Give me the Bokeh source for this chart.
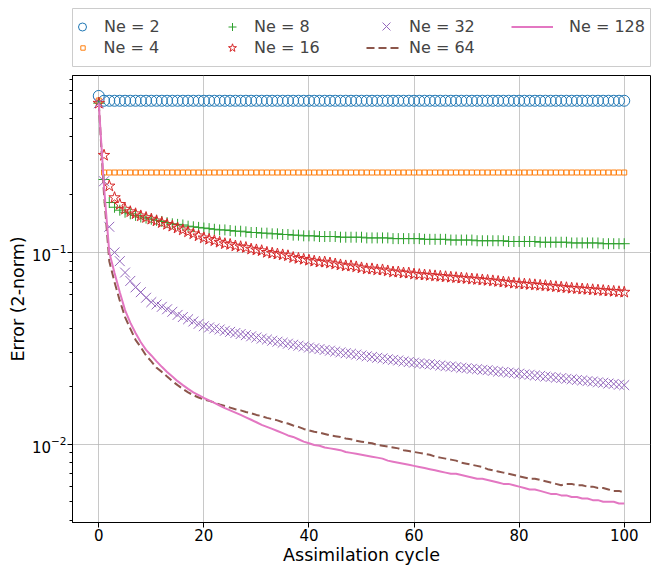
from bokeh.plotting import figure
from bokeh.layouts import column
from bokeh.models import Range1d, Legend, LegendItem, FixedTicker, LogTickFormatter
from bokeh.embed import file_html
from bokeh.resources import INLINE

cycles = list(range(101))

ne2 = [0.655,
       0.618, 0.618, 0.618, 0.618, 0.618, 0.618, 0.618, 0.618, 0.618, 0.618,
       0.618, 0.618, 0.618, 0.618, 0.618, 0.618, 0.618, 0.618, 0.618, 0.618,
       0.618, 0.618, 0.618, 0.618, 0.618, 0.618, 0.618, 0.618, 0.618, 0.618,
       0.618, 0.618, 0.618, 0.618, 0.618, 0.618, 0.618, 0.618, 0.618, 0.618,
       0.618, 0.618, 0.618, 0.618, 0.618, 0.618, 0.618, 0.618, 0.618, 0.618,
       0.618, 0.618, 0.618, 0.618, 0.618, 0.618, 0.618, 0.618, 0.618, 0.618,
       0.618, 0.618, 0.618, 0.618, 0.618, 0.618, 0.618, 0.618, 0.618, 0.618,
       0.618, 0.618, 0.618, 0.618, 0.618, 0.618, 0.618, 0.618, 0.618, 0.618,
       0.618, 0.618, 0.618, 0.618, 0.618, 0.618, 0.618, 0.618, 0.618, 0.618,
       0.618, 0.618, 0.618, 0.618, 0.618, 0.618, 0.618, 0.618, 0.618, 0.618]

ne4 = [0.620,
       0.261, 0.261, 0.261, 0.261, 0.261, 0.261, 0.261, 0.261, 0.261, 0.261,
       0.261, 0.261, 0.261, 0.261, 0.261, 0.261, 0.261, 0.261, 0.261, 0.261,
       0.261, 0.261, 0.261, 0.261, 0.261, 0.261, 0.261, 0.261, 0.261, 0.261,
       0.261, 0.261, 0.261, 0.261, 0.261, 0.261, 0.261, 0.261, 0.261, 0.261,
       0.261, 0.261, 0.261, 0.261, 0.261, 0.261, 0.261, 0.261, 0.261, 0.261,
       0.261, 0.261, 0.261, 0.261, 0.261, 0.261, 0.261, 0.261, 0.261, 0.261,
       0.261, 0.261, 0.261, 0.261, 0.261, 0.261, 0.261, 0.261, 0.261, 0.261,
       0.261, 0.261, 0.261, 0.261, 0.261, 0.261, 0.261, 0.261, 0.261, 0.261,
       0.261, 0.261, 0.261, 0.261, 0.261, 0.261, 0.261, 0.261, 0.261, 0.261,
       0.261, 0.261, 0.261, 0.261, 0.261, 0.261, 0.261, 0.261, 0.261, 0.261]

ne8 = [0.600,
       0.240, 0.182, 0.172, 0.166, 0.162, 0.159, 0.156, 0.153, 0.151, 0.149,
       0.147, 0.145, 0.143, 0.141, 0.140, 0.139, 0.137, 0.136, 0.135, 0.134,
       0.133, 0.132, 0.131, 0.131, 0.130, 0.129, 0.129, 0.128, 0.127, 0.127,
       0.126, 0.126, 0.125, 0.125, 0.124, 0.124, 0.123, 0.123, 0.122, 0.122,
       0.122, 0.121, 0.121, 0.121, 0.121, 0.120, 0.120, 0.120, 0.120, 0.120,
       0.119, 0.119, 0.119, 0.119, 0.119, 0.118, 0.118, 0.118, 0.118, 0.118,
       0.118, 0.117, 0.117, 0.117, 0.117, 0.117, 0.116, 0.116, 0.116, 0.116,
       0.116, 0.115, 0.115, 0.115, 0.115, 0.115, 0.115, 0.114, 0.114, 0.114,
       0.114, 0.114, 0.114, 0.113, 0.113, 0.113, 0.113, 0.113, 0.113, 0.112,
       0.112, 0.112, 0.112, 0.112, 0.112, 0.111, 0.111, 0.111, 0.111, 0.111]

ne16 = [0.600,
        0.321, 0.222, 0.193, 0.178, 0.168, 0.163, 0.159, 0.155, 0.152, 0.149,
        0.146, 0.143, 0.140, 0.137, 0.134, 0.131, 0.128, 0.125, 0.122, 0.119,
        0.117, 0.115, 0.113, 0.111, 0.110, 0.108, 0.107, 0.106, 0.104, 0.103,
        0.102, 0.100, 0.099, 0.098, 0.097, 0.096, 0.094, 0.093, 0.092, 0.091,
        0.090, 0.089, 0.089, 0.088, 0.087, 0.086, 0.085, 0.085, 0.084, 0.083,
        0.082, 0.082, 0.081, 0.081, 0.080, 0.079, 0.079, 0.078, 0.078, 0.077,
        0.0766, 0.0762, 0.0758, 0.0754, 0.0750, 0.0746, 0.0742, 0.0738, 0.0734, 0.0730,
        0.0726, 0.0722, 0.0718, 0.0714, 0.0710, 0.0705, 0.0700, 0.0696, 0.0691, 0.0687,
        0.0683, 0.0680, 0.0677, 0.0673, 0.0670, 0.0666, 0.0662, 0.0658, 0.0654, 0.0650,
        0.0647, 0.0644, 0.0641, 0.0638, 0.0635, 0.0632, 0.0629, 0.0626, 0.0623, 0.0620]

ne32 = [0.600,
        0.235, 0.136, 0.100, 0.090, 0.0785, 0.0710, 0.0657, 0.0620, 0.0580, 0.0550,
        0.0535, 0.0520, 0.0505, 0.0490, 0.0472, 0.0460, 0.0448, 0.0436, 0.0424, 0.0412,
        0.0406, 0.0401, 0.0396, 0.0390, 0.0385, 0.0380, 0.0375, 0.0370, 0.0365, 0.0360,
        0.0355, 0.0351, 0.0346, 0.0342, 0.0338, 0.0334, 0.0330, 0.0326, 0.0323, 0.0319,
        0.0316, 0.0313, 0.0310, 0.0307, 0.0304, 0.0301, 0.0298, 0.0296, 0.0293, 0.0290,
        0.0287, 0.0285, 0.0282, 0.0280, 0.0277, 0.0275, 0.0273, 0.0270, 0.0268, 0.0266,
        0.0264, 0.0262, 0.0261, 0.0259, 0.0257, 0.0255, 0.0254, 0.0252, 0.0250, 0.0249,
        0.0247, 0.0246, 0.0244, 0.0243, 0.0241, 0.0239, 0.0238, 0.0236, 0.0235, 0.0233,
        0.0231, 0.0230, 0.0228, 0.0227, 0.0225, 0.0224, 0.0222, 0.0221, 0.0219, 0.0218,
        0.0216, 0.0215, 0.0213, 0.0212, 0.0210, 0.0209, 0.0207, 0.0206, 0.0204, 0.0203]

ne64 = [0.600,
        0.200, 0.090, 0.070, 0.056, 0.046, 0.040, 0.035, 0.032, 0.029, 0.027,
        0.0250, 0.0238, 0.0225, 0.0213, 0.0203, 0.0194, 0.0186, 0.0180, 0.0175, 0.0171,
        0.0168, 0.0165, 0.0161, 0.0158, 0.0155, 0.0152, 0.0150, 0.0147, 0.0145, 0.0142,
        0.0140, 0.0137, 0.0135, 0.0133, 0.0130, 0.0128, 0.0125, 0.0123, 0.0120, 0.0118,
        0.0116, 0.0115, 0.0113, 0.0111, 0.0110, 0.0109, 0.0107, 0.0106, 0.0104, 0.0103,
        0.0102, 0.0101, 0.0099, 0.0098, 0.0097, 0.0096, 0.0095, 0.0093, 0.0092, 0.0091,
        0.0090, 0.0089, 0.0088, 0.0086, 0.0085, 0.0084, 0.0083, 0.0082, 0.0080, 0.0079,
        0.0078, 0.0077, 0.0076, 0.0074, 0.0073, 0.0072, 0.0071, 0.0070, 0.0069, 0.0068,
        0.0067, 0.0066, 0.0066, 0.0065, 0.0064, 0.0063, 0.0062, 0.0061, 0.0062, 0.0062,
        0.0061, 0.0061, 0.0060, 0.0060, 0.0059, 0.0059, 0.0058, 0.0057, 0.0057, 0.0056]

ne128 = [0.600,
         0.220, 0.100, 0.078, 0.062, 0.050, 0.043, 0.038, 0.034, 0.031, 0.029,
         0.0270, 0.0253, 0.0238, 0.0225, 0.0213, 0.0203, 0.0194, 0.0186, 0.0180, 0.0174,
         0.0169, 0.0164, 0.0159, 0.0154, 0.0150, 0.0146, 0.0142, 0.0138, 0.0134, 0.0130,
         0.0126, 0.0123, 0.0120, 0.0117, 0.0114, 0.0111, 0.0109, 0.0106, 0.0103, 0.0101,
         0.0099, 0.0098, 0.0096, 0.0095, 0.0094, 0.0093, 0.0091, 0.0090, 0.0089, 0.0088,
         0.0087, 0.0086, 0.0085, 0.0084, 0.0082, 0.0081, 0.0080, 0.0079, 0.0078, 0.0077,
         0.0076, 0.0075, 0.0074, 0.0073, 0.0072, 0.0071, 0.0070, 0.0070, 0.0069, 0.0068,
         0.0067, 0.0066, 0.0066, 0.0065, 0.0064, 0.0063, 0.0062, 0.0062, 0.0061, 0.0060,
         0.0059, 0.0058, 0.0058, 0.0057, 0.0056, 0.0055, 0.0055, 0.0054, 0.0054, 0.0053,
         0.0053, 0.0052, 0.0052, 0.0051, 0.0051, 0.0050, 0.0050, 0.0050, 0.0049, 0.0049]

labels = ["Ne = 2", "Ne = 4", "Ne = 8", "Ne = 16", "Ne = 32", "Ne = 64", "Ne = 128"]
x_ticks = [0, 20, 40, 60, 80, 100]
y_ticks = [0.01, 0.1]
y_minor = [0.004, 0.005, 0.006, 0.007, 0.008, 0.009,
           0.02, 0.03, 0.04, 0.05, 0.06, 0.07, 0.08, 0.09,
           0.2, 0.3, 0.4, 0.5, 0.6, 0.7, 0.8]

FONT = "DejaVu Sans"
COLORS = ["#1f77b4", "#ff7f0e", "#2ca02c", "#d62728", "#9467bd", "#8c564b", "#e377c2"]

STYLES = [
    dict(kind="scatter", marker="circle", size=11, fill_color=None),
    dict(kind="scatter", marker="square", size=5, fill_color=None),
    dict(kind="scatter", marker="cross", size=11),
    dict(kind="scatter", marker="star", size=12, fill_color=None),
    dict(kind="scatter", marker="x", size=14),
    dict(kind="line", line_dash="8 4"),
    dict(kind="line", line_dash="solid"),
]


def draw(fig, xs, ys, color, style):
    st = dict(style)
    kind = st.pop("kind")
    if kind == "scatter":
        return fig.scatter(xs, ys, line_color=color, line_width=1, **st)
    return fig.line(xs, ys, line_color=color, line_width=2, **st)


series = [ne2, ne4, ne8, ne16, ne32, ne64, ne128]

# ---------- main plot ----------
p = figure(width=654, height=493, y_axis_type="log",
           x_range=Range1d(-5, 105), y_range=Range1d(0.0039, 0.837),
           output_backend="svg", toolbar_location=None,
           min_border_left=72, min_border_right=4, min_border_top=1, min_border_bottom=0)

for ys, c, st in zip(series, COLORS, STYLES):
    draw(p, cycles, ys, c, st)

p.xaxis.ticker = FixedTicker(ticks=x_ticks)
p.yaxis.ticker = FixedTicker(ticks=y_ticks, minor_ticks=y_minor)
p.yaxis.formatter = LogTickFormatter()
p.xaxis.axis_label = "Assimilation cycle"
p.yaxis.axis_label = "Error (2-norm)"
for ax in [p.xaxis, p.yaxis]:
    ax.axis_label_text_font = FONT
    ax.axis_label_text_font_size = "17.5px"
    ax.axis_label_text_font_style = "normal"
    ax.axis_label_text_color = "black"
    ax.axis_label_standoff = 1
    ax.major_label_text_font = FONT
    ax.major_label_text_font_size = "15px"
    ax.major_label_text_color = "black"
    ax.major_label_standoff = 1
    ax.axis_line_color = "black"
    ax.major_tick_line_color = "black"
    ax.major_tick_in = 0
    ax.major_tick_out = 5
    ax.minor_tick_in = 0
    ax.minor_tick_out = 3
p.xaxis.minor_tick_line_color = None
p.yaxis.minor_tick_line_color = "black"

p.xgrid.grid_line_color = "#b0b0b0"
p.ygrid.grid_line_color = "#b0b0b0"
p.xgrid.grid_line_alpha = 0.7
p.ygrid.grid_line_alpha = 0.7
p.outline_line_color = "black"
p.outline_line_alpha = 1

# ---------- legend strip (box drawn as the frame outline) ----------
# The same series are drawn here but the ranges keep them out of view;
# only the legend entries of this strip are seen.
lg = figure(width=654, height=74, x_axis_type=None, y_axis_type=None,
            x_range=Range1d(-300, -200), y_range=Range1d(-300, -200),
            output_backend="svg", toolbar_location=None,
            min_border_left=70, min_border_right=0, min_border_top=8, min_border_bottom=8)
lg.outline_line_color = "#cccccc"
lg.outline_line_width = 1
lg.xgrid.visible = False
lg.ygrid.visible = False

legend_renderers = [draw(lg, cycles, ys, c, st) for ys, c, st in zip(series, COLORS, STYLES)]

# per entry: glyph centre (px from box left), glyph box size, row, text start
entry_center = [10, 10, 160, 160, 314, 312, 460]
entry_glyph_w = [20, 11, 20, 22, 28, 36, 42]
entry_glyph_h = [21, 21, 21, 21, 28, 21, 21]
entry_row = [0, 1, 0, 1, 0, 1, 0]
entry_text_x = [32, 32, 182, 182, 337, 337, 497]
ROW_H = 21
BOX_H = 58
for i in range(len(labels)):
    gw = entry_glyph_w[i]
    gh = entry_glyph_h[i]
    vx = entry_center[i] - gw / 2
    leg = Legend(items=[LegendItem(label=labels[i], renderers=[legend_renderers[i]])])
    leg.label_text_font = FONT
    leg.label_text_font_size = "16px"
    leg.glyph_width = gw
    leg.glyph_height = gh
    leg.spacing = 0
    leg.padding = 0
    leg.margin = 0
    leg.label_standoff = int(entry_text_x[i] - entry_center[i] - gw / 2)
    leg.border_line_color = None
    leg.background_fill_alpha = 0
    row_center = 7.5 + ROW_H * entry_row[i] + ROW_H / 2
    top = row_center - gh / 2
    leg.location = (vx, BOX_H - top - gh)
    lg.add_layout(leg, "center")

layout = column(lg, p, spacing=0)
open("out.html", "w").write(file_html(layout, INLINE))
